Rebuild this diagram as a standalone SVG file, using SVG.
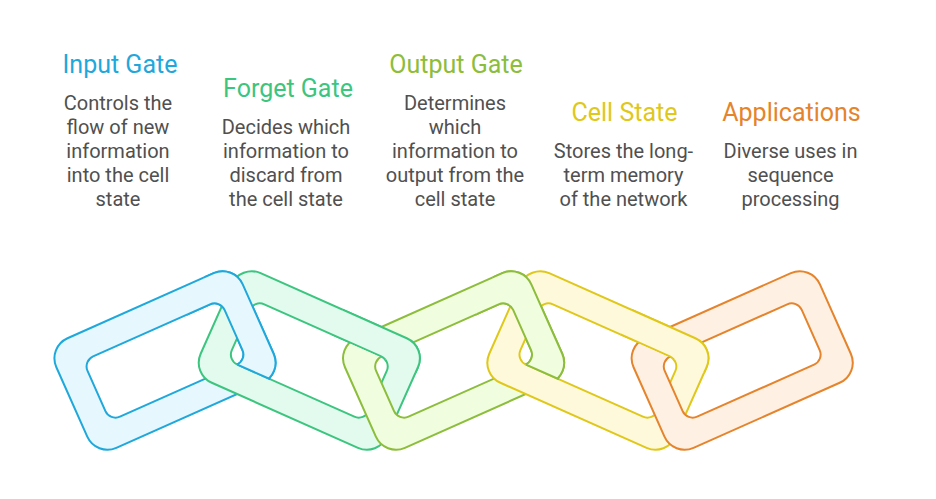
<svg xmlns="http://www.w3.org/2000/svg" xmlns:xlink="http://www.w3.org/1999/xlink" width="936" height="499" viewBox="0 0 936 499">
<style>
  .ring { stroke-width: 2; fill-rule: evenodd; }
  .blue { fill: #e6f7fd; stroke: #1fa8dc; }
  .green { fill: #e2fbee; stroke: #3cc57f; }
  .lime { fill: #f1fddf; stroke: #8cbd3b; }
  .yellow { fill: #fef9db; stroke: #e0c81a; }
  .orange { fill: #fef0e3; stroke: #e5842c; }
  .title { font-family: Roboto, "Liberation Sans", sans-serif; font-size: 25px; text-anchor: middle; }
  .body { font-family: Roboto, "Liberation Sans", sans-serif; font-size: 20px; text-anchor: middle; fill: #505050; }
  .cut { stroke-width: 2; fill: none; }
</style>
<defs>
  <path id="ring" d="M-80,-60 H80 A22,22 0 0 1 102,-38 V38 A22,22 0 0 1 80,60 H-80 A22,22 0 0 1 -102,38 V-38 A22,22 0 0 1 -80,-60 Z M-64,-33 H64 A11,11 0 0 1 75,-22 V22 A11,11 0 0 1 64,33 H-64 A11,11 0 0 1 -75,22 V-22 A11,11 0 0 1 -64,-33 Z"/>
  <clipPath id="c12" clipPathUnits="userSpaceOnUse"><rect transform="translate(309.3,360.5) rotate(24)" x="-130" y="-100" width="120" height="133"/></clipPath>
  <clipPath id="c34" clipPathUnits="userSpaceOnUse"><rect transform="translate(597.9,360.5) rotate(24)" x="-130" y="-100" width="120" height="133"/></clipPath>
  <clipPath id="c23" clipPathUnits="userSpaceOnUse"><rect transform="translate(309.3,360.5) rotate(24)" x="10" y="-100" width="120" height="68"/></clipPath>
  <clipPath id="c45" clipPathUnits="userSpaceOnUse"><rect transform="translate(597.9,360.5) rotate(24)" x="10" y="-100" width="120" height="68"/></clipPath>
</defs>

<g id="link-input"><use xlink:href="#ring" class="ring blue" transform="translate(165,360.5) rotate(-24)"/></g>
<g id="link-forget"><use xlink:href="#ring" class="ring green" transform="translate(309.3,360.5) rotate(24)"/></g>
<g id="link-output"><use xlink:href="#ring" class="ring lime" transform="translate(453.6,360.5) rotate(-24)"/></g>
<g id="link-cell"><use xlink:href="#ring" class="ring yellow" transform="translate(597.9,360.5) rotate(24)"/></g>
<g id="link-applications"><use xlink:href="#ring" class="ring orange" transform="translate(742.2,360.5) rotate(-24)"/></g>

<g id="interlocks">
  <g clip-path="url(#c12)"><use xlink:href="#ring" class="ring blue" transform="translate(165,360.5) rotate(-24)"/></g>
  <line class="cut" stroke="#1fa8dc" transform="translate(309.3,360.5) rotate(24)" x1="-64" y1="33" x2="-28" y2="33"/>
  <g clip-path="url(#c23)"><use xlink:href="#ring" class="ring green" transform="translate(309.3,360.5) rotate(24)"/></g>
  <g clip-path="url(#c34)"><use xlink:href="#ring" class="ring lime" transform="translate(453.6,360.5) rotate(-24)"/></g>
  <line class="cut" stroke="#8cbd3b" transform="translate(597.9,360.5) rotate(24)" x1="-64" y1="33" x2="-28" y2="33"/>
  <g clip-path="url(#c45)"><use xlink:href="#ring" class="ring yellow" transform="translate(597.9,360.5) rotate(24)"/></g>
</g>

<g id="text-input">
  <text class="title" x="120" y="73" fill="#1fa8dc">Input Gate</text>
  <text class="body" x="118" y="110">Controls the</text>
  <text class="body" x="118" y="134">flow of new</text>
  <text class="body" x="118" y="158">information</text>
  <text class="body" x="118" y="182">into the cell</text>
  <text class="body" x="118" y="206">state</text>
</g>
<g id="text-forget">
  <text class="title" x="288" y="97" fill="#3cc57f">Forget Gate</text>
  <text class="body" x="286" y="134">Decides which</text>
  <text class="body" x="286" y="158">information to</text>
  <text class="body" x="286" y="182">discard from</text>
  <text class="body" x="286" y="206">the cell state</text>
</g>
<g id="text-output">
  <text class="title" x="456" y="73" fill="#8cbd3b">Output Gate</text>
  <text class="body" x="455" y="110">Determines</text>
  <text class="body" x="455" y="134">which</text>
  <text class="body" x="455" y="158">information to</text>
  <text class="body" x="455" y="182">output from the</text>
  <text class="body" x="455" y="206">cell state</text>
</g>
<g id="text-cell">
  <text class="title" x="624.5" y="121" fill="#e0c81a">Cell State</text>
  <text class="body" x="623.5" y="158">Stores the long-</text>
  <text class="body" x="623.5" y="182">term memory</text>
  <text class="body" x="623.5" y="206">of the network</text>
</g>
<g id="text-applications">
  <text class="title" x="791.5" y="121" fill="#e5842c">Applications</text>
  <text class="body" x="790.5" y="158">Diverse uses in</text>
  <text class="body" x="790.5" y="182">sequence</text>
  <text class="body" x="790.5" y="206">processing</text>
</g>
</svg>
